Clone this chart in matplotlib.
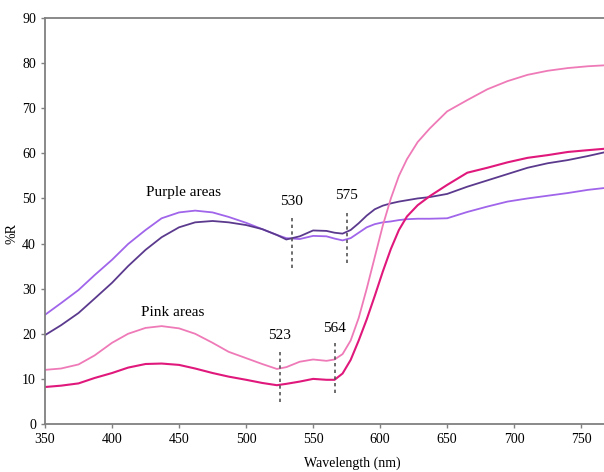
import matplotlib.pyplot as plt

plt.rcParams['font.family'] = ['Liberation Serif', 'DejaVu Serif']

wavelength = [350, 362, 375, 387, 400, 412, 425, 437, 450, 462, 475, 487, 500, 512, 523,
              530, 540, 550, 560, 566, 572, 578, 584, 590, 596, 602, 608, 614, 620, 628,
              637, 650, 665, 680, 695, 710, 725, 740, 755, 767]

purple_light = [24.2, 26.8, 29.7, 33.0, 36.4, 39.9, 43.0, 45.6, 46.9, 47.3, 46.9, 45.9, 44.6,
                43.2, 41.9, 41.2, 41.0, 41.7, 41.6, 41.1, 40.7, 41.2, 42.4, 43.6, 44.3, 44.7,
                44.9, 45.2, 45.4, 45.5, 45.5, 45.6, 47.0, 48.2, 49.3, 50.0, 50.6, 51.2, 51.9,
                52.3]
purple_dark = [19.7, 21.9, 24.6, 27.8, 31.3, 35.0, 38.6, 41.4, 43.6, 44.7, 45.0, 44.7, 44.1,
               43.2, 41.9, 40.9, 41.6, 42.9, 42.8, 42.4, 42.2, 43.0, 44.5, 46.2, 47.6, 48.4,
               48.9, 49.3, 49.6, 50.0, 50.3, 51.0, 52.6, 54.0, 55.4, 56.8, 57.8, 58.5, 59.4,
               60.2]
pink_light = [12.0, 12.3, 13.2, 15.2, 18.0, 20.0, 21.3, 21.7, 21.2, 20.0, 18.0, 16.0, 14.6,
              13.3, 12.2, 12.6, 13.8, 14.3, 14.0, 14.3, 15.5, 18.5, 23.5, 30.0, 37.0, 44.0,
              50.0, 55.0, 58.7, 62.5, 65.5, 69.3, 71.8, 74.2, 76.0, 77.4, 78.3, 78.9, 79.3,
              79.5]
pink_dark = [8.2, 8.5, 9.0, 10.2, 11.3, 12.5, 13.3, 13.4, 13.1, 12.3, 11.3, 10.5, 9.8, 9.1,
             8.6, 8.9, 9.4, 10.0, 9.8, 9.8, 11.2, 14.2, 18.5, 23.2, 28.4, 33.8, 38.8, 43.0,
             46.0, 48.5, 50.5, 53.0, 55.7, 56.8, 58.0, 59.0, 59.6, 60.3, 60.7, 61.0]

# dotted markers: position on plot, label, y range
mark_x = [534, 575, 525, 566]
mark_label = ["530", "575", "523", "564"]
mark_y0 = [34.5, 35.7, 4.9, 6.9]
mark_y1 = [46.0, 47.5, 16.4, 18.0]

fig = plt.figure(figsize=(6.04, 4.72), dpi=100)
ax = fig.add_axes([0.0745, 0.1017, 0.9255, 0.8602])

ax.plot(wavelength, purple_light, color="#a065ea", lw=1.3)
ax.plot(wavelength, purple_dark, color="#5b3a8e", lw=1.3)
ax.plot(wavelength, pink_light, color="#ef7ab8", lw=1.3)
ax.plot(wavelength, pink_dark, color="#e0187c", lw=1.5)

for x, lab, y0, y1 in zip(mark_x, mark_label, mark_y0, mark_y1):
    ax.plot([x, x], [y0, y1], color="#555555", lw=1.2, ls=(0, (2, 2)))
    ax.text(x, y1 + 1.8, lab, ha="center", va="bottom", fontsize=11)

ax.text(453, 51.3, "Purple areas", ha="center", va="center", fontsize=11)
ax.text(445, 24.8, "Pink areas", ha="center", va="center", fontsize=11)

ax.set_xlim(350, 767)
ax.set_ylim(0, 90)
ax.set_xticks(range(350, 767, 50))
ax.set_yticks(range(0, 91, 10))
ax.tick_params(labelsize=10, length=3, color="#808080", width=1)
for side in ["left", "bottom", "top"]:
    ax.spines[side].set_color("#808080")
    ax.spines[side].set_linewidth(1.3)
ax.spines["right"].set_visible(False)

ax.set_xlabel("Wavelength (nm)", fontsize=10)
ax.xaxis.set_label_coords(0.55, -0.08)
ax.set_ylabel("%R", fontsize=10)
ax.yaxis.set_label_coords(-0.048, 0.47)

fig.savefig("out.png", dpi=100)
